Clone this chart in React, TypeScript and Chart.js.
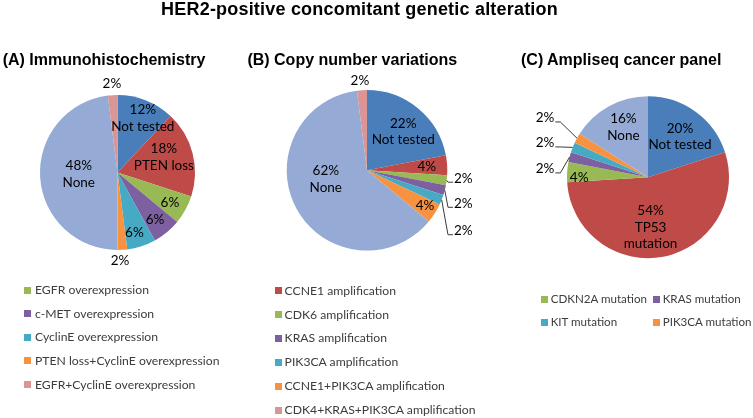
import React, { useEffect, useRef } from 'react';
import { Chart, registerables } from 'chart.js';

Chart.register(...registerables);

const W = 753;
const H = 418;

const mainTitle = 'HER2-positive concomitant genetic alteration';

const BLUE = '#4A7EBB';
const RED = '#BE4B48';
const GREEN = '#98B954';
const PURPLE = '#7D60A0';
const AQUA = '#46AAC5';
const ORANGE = '#F69240';
const LIGHTBLUE = '#95ABD6';
const PINK = '#D99694';

// ---- (A) Immunohistochemistry ----
const titleA = '(A) Immunohistochemistry';
const categoriesA = [
  'Not tested',
  'PTEN loss',
  'EGFR overexpression',
  'c-MET overexpression',
  'CyclinE overexpression',
  'PTEN loss+CyclinE overexpression',
  'None',
  'EGFR+CyclinE overexpression',
];
const valuesA = [12, 18, 6, 6, 6, 2, 48, 2];
const sliceNamesA = [['Not tested'], ['PTEN loss'], [], [], [], [], ['None'], []];
const colorsA = [BLUE, RED, GREEN, PURPLE, AQUA, ORANGE, LIGHTBLUE, PINK];
const legendA = [
  'EGFR overexpression',
  'c-MET overexpression',
  'CyclinE overexpression',
  'PTEN loss+CyclinE overexpression',
  'EGFR+CyclinE overexpression',
];

// ---- (B) Copy number variations ----
const titleB = '(B) Copy number variations';
const categoriesB = [
  'Not tested',
  'CCNE1 amplification',
  'CDK6 amplification',
  'KRAS amplification',
  'PIK3CA amplification',
  'CCNE1+PIK3CA amplification',
  'None',
  'CDK4+KRAS+PIK3CA amplification',
];
const valuesB = [22, 4, 2, 2, 2, 4, 62, 2];
const sliceNamesB = [['Not tested'], [], [], [], [], [], ['None'], []];
const colorsB = [BLUE, RED, GREEN, PURPLE, AQUA, ORANGE, LIGHTBLUE, PINK];
const legendB = [
  'CCNE1 amplification',
  'CDK6 amplification',
  'KRAS amplification',
  'PIK3CA amplification',
  'CCNE1+PIK3CA amplification',
  'CDK4+KRAS+PIK3CA amplification',
];

// ---- (C) Ampliseq cancer panel ----
const titleC = '(C) Ampliseq cancer panel';
const categoriesC = [
  'Not tested',
  'TP53 mutation',
  'CDKN2A mutation',
  'KRAS mutation',
  'KIT mutation',
  'PIK3CA mutation',
  'None',
];
const valuesC = [20, 54, 4, 2, 2, 2, 16];
const sliceNamesC = [['Not tested'], ['TP53', 'mutation'], [], [], [], [], ['None']];
const colorsC = [BLUE, RED, GREEN, PURPLE, AQUA, ORANGE, LIGHTBLUE];
const legendC = ['CDKN2A mutation', 'KRAS mutation', 'KIT mutation', 'PIK3CA mutation'];

// ---- layout / style (not data) ----
const layoutA = {
  cx: 117.5, cy: 172.5, r: 77.5,
  place: [[0.775, 3.3], [0.63, -3.9], [0.78, 1.1], [0.78, 1.3], [0.81, 2.4], [1.14, 2], [0.5, 0.9], [1.153, 0]],
  leader: [null, null, null, null, null, null, null, null],
};
const layoutB = {
  cx: 367, cy: 170.3, r: 80.3,
  place: [[0.66, 3.6], [0.745, 0], [1.203, -2.5], [1.268, 4.5], [1.416, 10.5], [0.846, -1], [0.525, 16.6], [1.12, -0.9]],
  leader: [null, null, 'right', 'right', 'right', null, null, null],
};
const layoutC = {
  cx: 648, cy: 177.2, r: 81,
  place: [[0.637, 2.3], [0.62, 7.9], [0.85, -3.6], [1.275, -9.8], [1.34, -3.2], [1.467, 1.1], [0.687, 2.6]],
  leader: [null, null, null, 'left', 'left', 'left', null],
};

const LABEL_FONT = '13.5px Lato, "Open Sans", sans-serif';
const LABEL_COLOR = '#000000';
const LABEL_LINE = 16.7;
const LEGEND_FONT = 'Lato, "Open Sans", sans-serif';
const TITLE_FONT = '"Liberation Sans", Arial, Helvetica, sans-serif';

const sliceLabelPlugin = {
  id: 'sliceLabels',
  afterDatasetsDraw(chart: any, _args: any, opts: any) {
    const { ctx } = chart;
    const meta = chart.getDatasetMeta(0);
    const values = chart.data.datasets[0].data;
    ctx.save();
    ctx.font = LABEL_FONT;
    ctx.fillStyle = LABEL_COLOR;
    ctx.strokeStyle = '#3a3a3a';
    ctx.lineWidth = 1;
    ctx.textAlign = 'center';
    ctx.textBaseline = 'middle';
    meta.data.forEach((arc: any, i: number) => {
      const p = arc.getProps(['x', 'y', 'startAngle', 'endAngle', 'outerRadius'], true);
      const mid = (p.startAngle + p.endAngle) / 2;
      const [frac, nudge] = opts.place[i];
      const a = mid + (nudge * Math.PI) / 180;
      const lx = p.x + Math.cos(a) * p.outerRadius * frac;
      const ly = p.y + Math.sin(a) * p.outerRadius * frac;
      const lines = [values[i] + '%', ...opts.names[i]];
      lines.forEach((t: string, k: number) => {
        ctx.fillText(t, lx, ly + (k - (lines.length - 1) / 2) * LABEL_LINE);
      });
      const side = opts.leader[i];
      if (side) {
        const w = ctx.measureText(lines[0]).width;
        const ex = p.x + Math.cos(mid) * p.outerRadius;
        const ey = p.y + Math.sin(mid) * p.outerRadius;
        const by = ly + 4;
        ctx.beginPath();
        if (side === 'right') {
          const x0 = lx - w / 2 - 1;
          ctx.moveTo(ex, ey);
          ctx.lineTo(x0 - 5, by);
          ctx.lineTo(x0, by);
        } else {
          const x0 = lx + w / 2 + 1;
          ctx.moveTo(ex, ey);
          ctx.lineTo(x0 + 5, by);
          ctx.lineTo(x0, by);
        }
        ctx.stroke();
      }
    });
    ctx.restore();
  },
};

function PieCanvas({ categories, values, colors, names, layout }: any) {
  const ref = useRef<HTMLCanvasElement | null>(null);
  useEffect(() => {
    if (!ref.current) return;
    const chart = new Chart(ref.current, {
      type: 'pie',
      data: {
        labels: categories,
        datasets: [
          {
            data: values,
            backgroundColor: colors,
            borderWidth: 0,
          },
        ],
      },
      options: {
        responsive: false,
        animation: false,
        events: [],
        layout: {
          padding: {
            left: layout.cx - layout.r,
            right: W - layout.cx - layout.r,
            top: layout.cy - layout.r,
            bottom: H - layout.cy - layout.r,
          },
        },
        plugins: {
          legend: { display: false },
          tooltip: { enabled: false },
          sliceLabels: { place: layout.place, leader: layout.leader, names },
        } as any,
      },
      plugins: [sliceLabelPlugin as any],
    });
    return () => chart.destroy();
  }, []);
  return (
    <canvas
      ref={ref}
      width={W}
      height={H}
      style={{ position: 'absolute', left: 0, top: 0, width: W, height: H }}
    />
  );
}

function LegendItem({ x, cy, color, text, gap, size }: any) {
  return (
    <div
      style={{
        position: 'absolute',
        left: x,
        top: cy - 8,
        height: 16,
        display: 'flex',
        alignItems: 'center',
        whiteSpace: 'nowrap',
      }}
    >
      <div style={{ width: 7, height: 7, background: color, marginRight: gap }} />
      <span style={{ font: `${size}px ${LEGEND_FONT}`, lineHeight: '16px', color: '#3c3c3c' }}>{text}</span>
    </div>
  );
}

function colorOf(cats: string[], cols: string[], name: string) {
  return cols[cats.indexOf(name)];
}

export default function App() {
  const subTitle = (text: string, left: number) => (
    <div
      style={{
        position: 'absolute',
        left,
        top: 51.5,
        font: `bold 16px ${TITLE_FONT}`,
        lineHeight: '16px',
        whiteSpace: 'nowrap',
        color: '#000',
      }}
    >
      {text}
    </div>
  );
  return (
    <div
      style={{
        position: 'absolute',
        left: 0,
        top: 0,
        width: W,
        height: H,
        overflow: 'hidden',
        background: '#ffffff',
      }}
    >
      <PieCanvas categories={categoriesA} values={valuesA} colors={colorsA} names={sliceNamesA} layout={layoutA} />
      <PieCanvas categories={categoriesB} values={valuesB} colors={colorsB} names={sliceNamesB} layout={layoutB} />
      <PieCanvas categories={categoriesC} values={valuesC} colors={colorsC} names={sliceNamesC} layout={layoutC} />

      <div
        style={{
          position: 'absolute',
          left: 59.5,
          width: 600,
          top: 0,
          textAlign: 'center',
          font: `bold 18px ${TITLE_FONT}`,
          lineHeight: '18px',
          letterSpacing: '0.2px',
          whiteSpace: 'nowrap',
          color: '#000',
        }}
      >
        {mainTitle}
      </div>
      {subTitle(titleA, 2.7)}
      {subTitle(titleB, 247.4)}
      {subTitle(titleC, 521)}

      {legendA.map((t, i) => (
        <LegendItem key={'a' + i} x={24} cy={290 + i * 23.65} color={colorOf(categoriesA, colorsA, t)} text={t} gap={4} size={12.2} />
      ))}
      {legendB.map((t, i) => (
        <LegendItem key={'b' + i} x={275} cy={290.7 + i * 23.86} color={colorOf(categoriesB, colorsB, t)} text={t} gap={2.6} size={12.2} />
      ))}
      {legendC.map((t, i) => (
        <LegendItem
          key={'c' + i}
          x={i % 2 === 0 ? 540.7 : 652.7}
          cy={299 + Math.floor(i / 2) * 23.3}
          color={colorOf(categoriesC, colorsC, t)}
          text={t}
          gap={3}
          size={11.6}
        />
      ))}
    </div>
  );
}
